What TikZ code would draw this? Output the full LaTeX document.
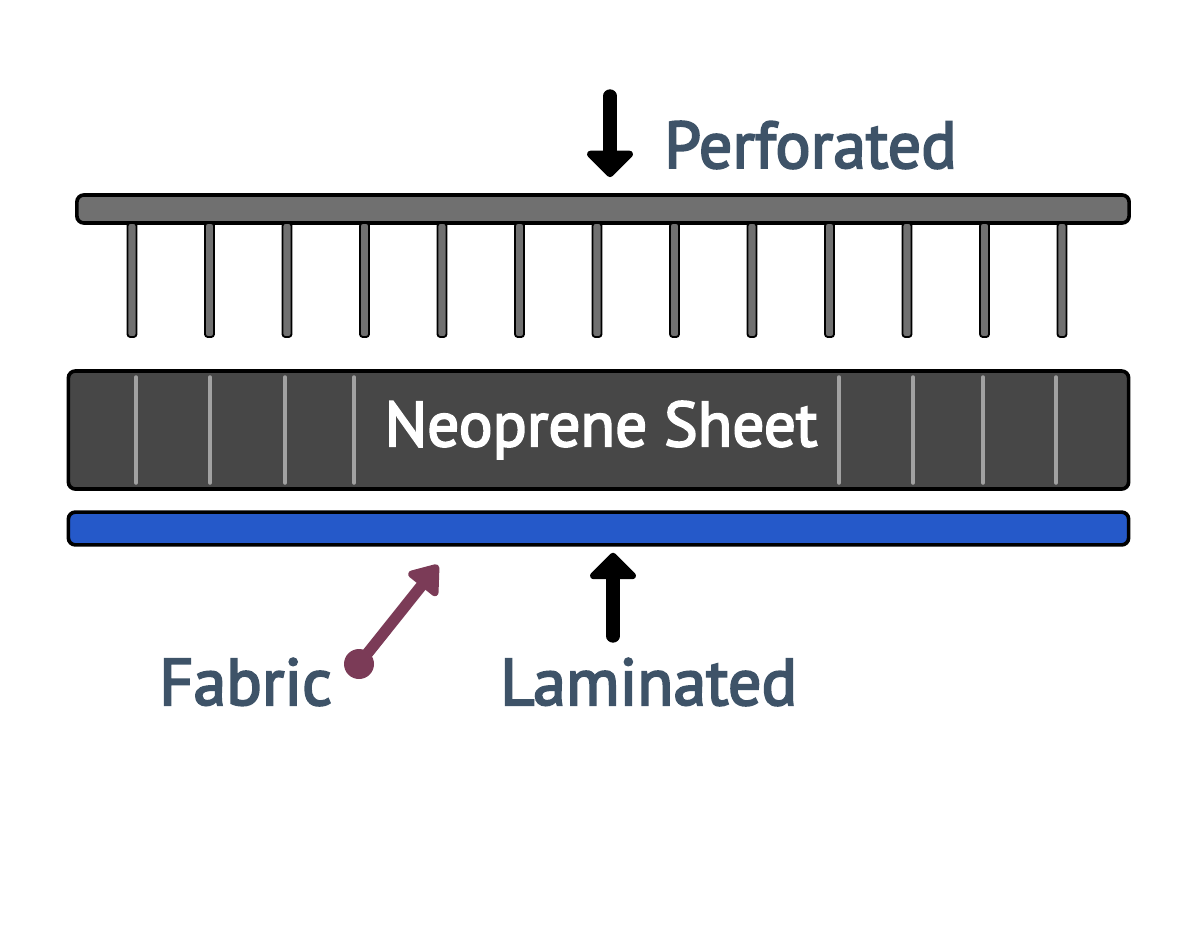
\documentclass[tikz,border=0pt]{standalone}
\usepackage{fontspec}
\setmainfont{PT Sans}
\newfontfamily\tagfont{PT Sans}[FakeBold=3]
\usepackage{tikz}
\usetikzlibrary{arrows.meta, positioning, calc}

\definecolor{labelblue}{HTML}{3E5368}
\definecolor{bargray}{HTML}{707070}
\definecolor{sheetgray}{HTML}{474747}
\definecolor{ridgegray}{HTML}{A2A2A2}
\definecolor{fabricblue}{HTML}{2559C9}
\definecolor{fabricred}{HTML}{7B3B57}

\begin{document}
\begin{tikzpicture}[x=0.025cm, y=-0.025cm,
        layer/.style={rectangle, draw=black, line width=2.6pt, rounded corners=5pt, inner sep=0pt, minimum width=26.5cm},
        pin/.style={draw=black, line width=1.3pt, fill=bargray, rounded corners=2pt},
        ridge/.style={draw=ridgegray, line width=2.5pt},
        tag/.style={text=labelblue, font=\tagfont\fontsize{47}{52}\selectfont, inner sep=0pt, anchor=base west},
        push/.style={line width=9.5pt, line cap=round, -{Triangle[length=0.7cm, width=1.35cm, round]}}
    ]
        \useasboundingbox[fill=white] (0,0) rectangle (1200,928);

        % Layers
        \node[layer, fill=bargray, minimum width=26.3cm, minimum height=0.7cm] (perf) at (603,209) {};
        \node[layer, fill=sheetgray, minimum height=2.95cm] (sheet) at (598.5,430) {};
        \node[layer, fill=fabricblue, minimum height=0.82cm] (fabric) at (598.5,528.5) {};

        % Pins
        \foreach \i in {0,...,12}
            \draw[pin] ({132+77.5*\i-4.5},223) rectangle ({132+77.5*\i+4.5},337);

        % Ridges
        \foreach \x in {136,210,285,354,839,913,983,1056}
            \draw[ridge, line cap=round] (\x,377) -- (\x,483);
        \node[text=white, font=\tagfont\fontsize{45}{50}\selectfont] (sheetlabel) at (601,430) {Neoprene Sheet};

        % Labels
        \node[tag] (perflabel) at (664,168) {Perforated};
        \node[tag] (lamlabel) at (500,705) {Laminated};
        \node[tag] (fablabel) at (159,705) {Fabric};

        % Arrows
        \coordinate (perfin) at (610,96);
        \draw[push] (perfin) -- (perfin |- perf.north) [shorten >=0.4cm];
        \coordinate (lamin) at (613,636);
        \draw[push] (lamin) -- (lamin |- fabric.south) [shorten >=0.15cm];

        \node[circle, fill=fabricred, inner sep=0pt, minimum size=0.75cm] (fabdot) at (359,664) {};
        \coordinate (fabtip) at (438,565);
        \draw[fabricred, line width=8pt, -{Triangle[length=0.75cm, width=1.05cm, round]}] (fabdot.center) -- (fabtip);
    \end{tikzpicture}
\end{document}
